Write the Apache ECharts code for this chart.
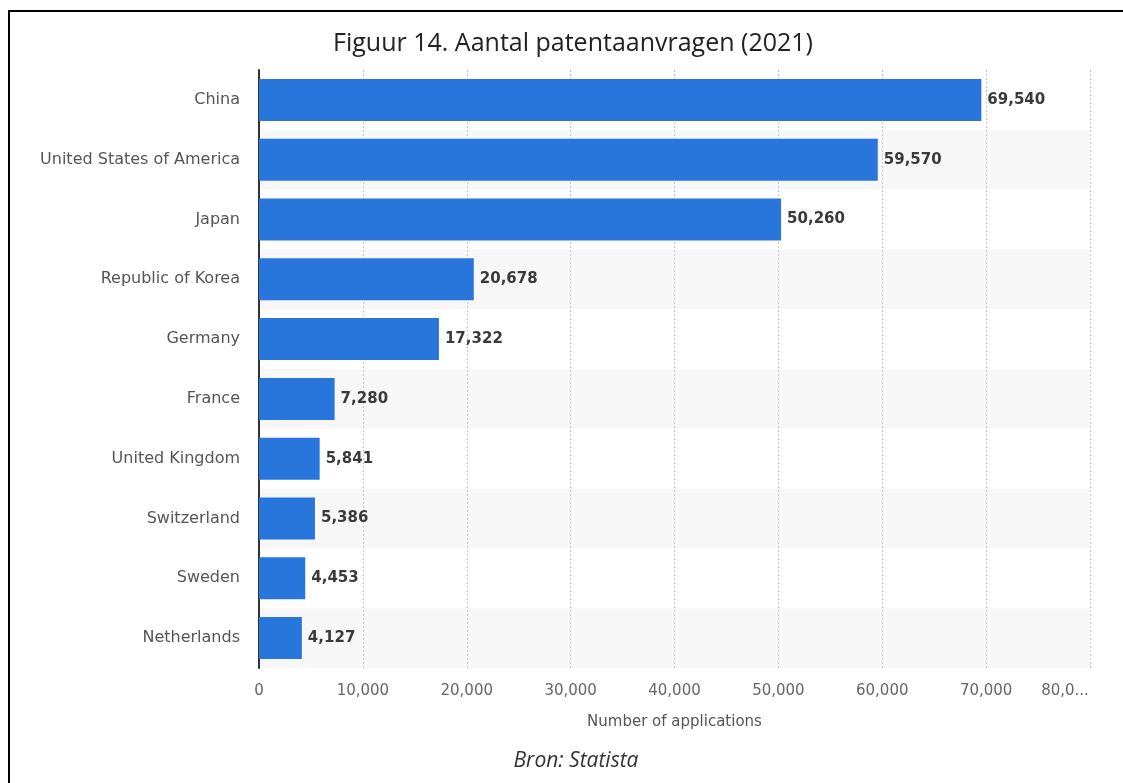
<!DOCTYPE html>
<html>
<head>
<meta charset="utf-8">
<script src="https://cdn.jsdelivr.net/npm/echarts@6/dist/echarts.min.js"></script>
<style>
html, body { margin: 0; padding: 0; background: #fff; }
#main { width: 1123px; height: 783px; }
</style>
</head>
<body>
<div id="main"></div>
<script>
var countries = ['China', 'United States of America', 'Japan', 'Republic of Korea', 'Germany',
    'France', 'United Kingdom', 'Switzerland', 'Sweden', 'Netherlands'];
var applications = [69540, 59570, 50260, 20678, 17322, 7280, 5841, 5386, 4453, 4127];
var xTicks = [0, 10000, 20000, 30000, 40000, 50000, 60000, 70000, 80000];

var fmt = function (v) {
    return String(v).replace(/\B(?=(\d{3})+(?!\d))/g, ',');
};

var chart = echarts.init(document.getElementById('main'));
var option = {
    backgroundColor: '#fff',
    animation: false,
    title: [{
        text: 'Figuur 14. Aantal patentaanvragen (2021)',
        left: 568,
        top: 26,
        textAlign: 'center',
        textStyle: { fontFamily: 'Open Sans', fontSize: 25, fontWeight: 'normal', color: '#222' }
    }, {
        text: 'Bron: Statista',
        left: 571,
        top: 746,
        textAlign: 'center',
        textStyle: { fontFamily: 'Open Sans', fontSize: 21, fontStyle: 'italic', fontWeight: 'normal', color: '#333' }
    }],
    graphic: [{
        type: 'rect',
        shape: { x: 9, y: 11, width: 1300, height: 1000 },
        style: { fill: 'none', stroke: '#000', lineWidth: 2 },
        silent: true
    }],
    grid: { left: 259, right: 33, top: 70, bottom: 115 },
    xAxis: {
        type: 'value',
        min: xTicks[0],
        max: xTicks[xTicks.length - 1],
        interval: 10000,
        name: 'Number of applications',
        nameLocation: 'middle',
        nameGap: 47,
        nameTextStyle: { fontFamily: 'DejaVu Sans', fontSize: 15, color: '#555' },
        axisLine: { show: false },
        axisTick: { show: false },
        axisLabel: {
            margin: 16,
            fontFamily: 'DejaVu Sans',
            fontSize: 15,
            color: '#666',
            // last label is cut off and pushed inside the plot, as in the original
            formatter: function (v) { return v === 80000 ? '{last|80,0...}' : fmt(v); },
            rich: {
                last: { fontFamily: 'DejaVu Sans', fontSize: 15, color: '#666', padding: [0, 50, 0, 0] }
            }
        },
        splitLine: { show: true, lineStyle: { color: '#c8c8c8', type: [2, 2], width: 1 } }
    },
    yAxis: {
        type: 'category',
        data: countries,
        inverse: true,
        axisLine: { show: true, lineStyle: { color: '#333', width: 2 } },
        axisTick: { show: false },
        axisLabel: { margin: 19, fontFamily: 'DejaVu Sans', fontSize: 16, color: '#555' },
        splitArea: { show: true, areaStyle: { color: ['#ffffff', '#f7f7f7'] } }
    },
    series: [{
        type: 'bar',
        data: applications,
        barWidth: 42,
        itemStyle: { color: '#2876dc' },
        label: {
            show: true,
            position: 'right',
            distance: 6,
            fontFamily: 'DejaVu Sans',
            fontSize: 15,
            fontWeight: 'bold',
            color: '#3a3a3a',
            formatter: function (p) { return fmt(p.value); }
        }
    }]
};
chart.setOption(option);
</script>
</body>
</html>
